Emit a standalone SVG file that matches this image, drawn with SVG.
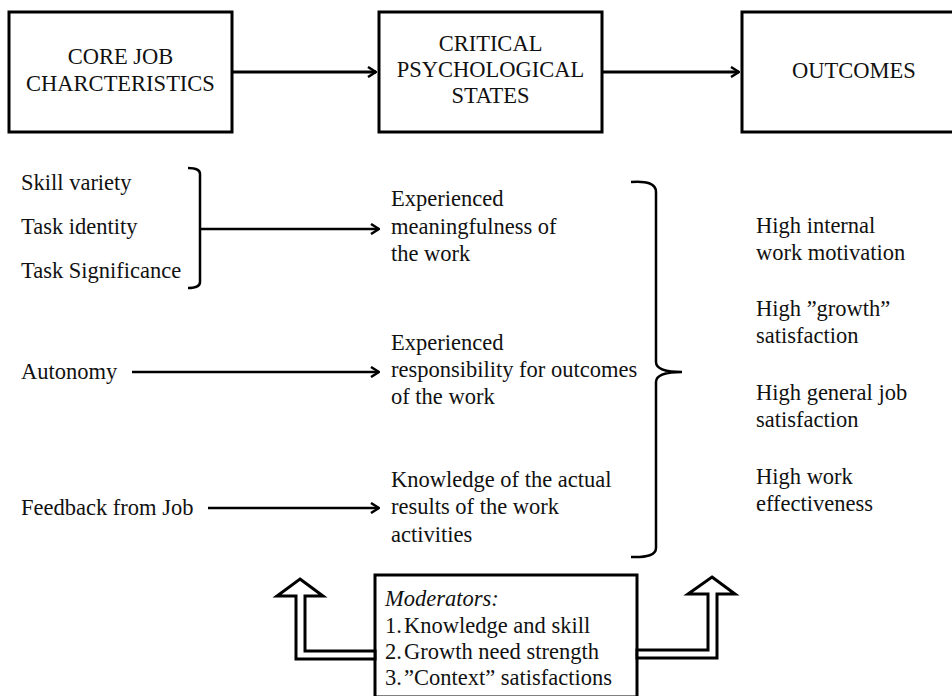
<svg xmlns="http://www.w3.org/2000/svg" width="952" height="696" viewBox="0 0 952 696">
<rect width="952" height="696" fill="#fff"/>
<defs>
<marker id="ah" viewBox="0 0 10 12" refX="9" refY="6" markerWidth="10" markerHeight="12" markerUnits="userSpaceOnUse" orient="auto">
<path d="M1,1 L9,6 L1,11" fill="none" stroke="#000" stroke-width="2.5"/>
</marker>
</defs>

<g id="core">
<rect x="9" y="12" width="223" height="120" fill="#fff" stroke="#000" stroke-width="3"/>
<text font-family="Liberation Serif" font-size="22.5" fill="#111" text-anchor="middle" x="120.5" y="64">CORE JOB</text>
<text font-family="Liberation Serif" font-size="22.5" fill="#111" text-anchor="middle" x="120.5" y="91">CHARCTERISTICS</text>
</g>
<g id="critical">
<rect x="379" y="12" width="223" height="120" fill="#fff" stroke="#000" stroke-width="3"/>
<text font-family="Liberation Serif" font-size="22.5" fill="#111" text-anchor="middle" x="490.5" y="51">CRITICAL</text>
<text font-family="Liberation Serif" font-size="22.5" fill="#111" text-anchor="middle" x="490.5" y="77">PSYCHOLOGICAL</text>
<text font-family="Liberation Serif" font-size="22.5" fill="#111" text-anchor="middle" x="490.5" y="103">STATES</text>
</g>
<g id="outcomes">
<rect x="742" y="12" width="224" height="120" fill="#fff" stroke="#000" stroke-width="3"/>
<text font-family="Liberation Serif" font-size="22.5" fill="#111" text-anchor="middle" x="854" y="78">OUTCOMES</text>
</g>

<g id="core-list">
<text font-family="Liberation Serif" font-size="22.5" fill="#111" x="21" y="190">Skill variety</text>
<text font-family="Liberation Serif" font-size="22.5" fill="#111" x="21" y="234">Task identity</text>
<text font-family="Liberation Serif" font-size="22.5" fill="#111" x="21" y="278">Task Significance</text>
<text font-family="Liberation Serif" font-size="22.5" fill="#111" x="21" y="379">Autonomy</text>
<text font-family="Liberation Serif" font-size="22.5" fill="#111" x="21" y="515">Feedback from Job</text>
</g>

<g id="states-list">
<text font-family="Liberation Serif" font-size="22.5" fill="#111" x="391" y="206">Experienced</text>
<text font-family="Liberation Serif" font-size="22.5" fill="#111" x="391" y="234">meaningfulness of</text>
<text font-family="Liberation Serif" font-size="22.5" fill="#111" x="391" y="261">the work</text>
<text font-family="Liberation Serif" font-size="22.5" fill="#111" x="391" y="350">Experienced</text>
<text font-family="Liberation Serif" font-size="22.5" fill="#111" x="391" y="377">responsibility for outcomes</text>
<text font-family="Liberation Serif" font-size="22.5" fill="#111" x="391" y="404">of the work</text>
<text font-family="Liberation Serif" font-size="22.5" fill="#111" x="391" y="487">Knowledge of the actual</text>
<text font-family="Liberation Serif" font-size="22.5" fill="#111" x="391" y="514">results of the work</text>
<text font-family="Liberation Serif" font-size="22.5" fill="#111" x="391" y="542">activities</text>
</g>

<g id="outcomes-list">
<text font-family="Liberation Serif" font-size="22.5" fill="#111" x="756" y="233">High internal</text>
<text font-family="Liberation Serif" font-size="22.5" fill="#111" x="756" y="260">work motivation</text>
<text font-family="Liberation Serif" font-size="22.5" fill="#111" x="756" y="316">High ”growth”</text>
<text font-family="Liberation Serif" font-size="22.5" fill="#111" x="756" y="343">satisfaction</text>
<text font-family="Liberation Serif" font-size="22.5" fill="#111" x="756" y="400">High general job</text>
<text font-family="Liberation Serif" font-size="22.5" fill="#111" x="756" y="427">satisfaction</text>
<text font-family="Liberation Serif" font-size="22.5" fill="#111" x="756" y="484">High work</text>
<text font-family="Liberation Serif" font-size="22.5" fill="#111" x="756" y="511">effectiveness</text>
</g>

<g id="moderators">
<rect x="375" y="575" width="262" height="122" fill="#fff" stroke="#000" stroke-width="3"/>
<text font-family="Liberation Serif" font-size="22.5" fill="#111" x="385" y="606" font-style="italic">Moderators:</text>
<text font-family="Liberation Serif" font-size="22.5" fill="#111" x="385" y="633">1.</text>
<text font-family="Liberation Serif" font-size="22.5" fill="#111" x="404" y="633">Knowledge and skill</text>
<text font-family="Liberation Serif" font-size="22.5" fill="#111" x="385" y="659">2.</text>
<text font-family="Liberation Serif" font-size="22.5" fill="#111" x="404" y="659">Growth need strength</text>
<text font-family="Liberation Serif" font-size="22.5" fill="#111" x="385" y="685">3.</text>
<text font-family="Liberation Serif" font-size="22.5" fill="#111" x="404" y="685">”Context” satisfactions</text>
</g>

<g id="connectors" fill="none" stroke="#000" stroke-width="2.5">
<line stroke-width="3" x1="232" y1="72" x2="376" y2="72" marker-end="url(#ah)"/>
<line stroke-width="3" x1="602" y1="72" x2="739" y2="72" marker-end="url(#ah)"/>
<path d="M188,168 Q200,168 200,174 L200,282 Q200,288 188,288"/>
<line x1="200" y1="229" x2="379" y2="229" marker-end="url(#ah)"/>
<line x1="132" y1="372" x2="379" y2="372" marker-end="url(#ah)"/>
<line x1="208" y1="508" x2="379" y2="508" marker-end="url(#ah)"/>
<path d="M631,182 Q656,180 656,192 L656,362 Q656,372 682,372 Q656,372 656,382 L656,548 Q656,558 631,557"/>
<path fill="#fff" stroke-width="3" d="M300,579 L323,596 L305,596 L305,651 L375,651 L375,659 L296,659 L296,596 L277,596 Z"/>
<path fill="#fff" stroke-width="3" d="M712,577 L735,594 L717,594 L717,658 L637,658 L637,650 L708,650 L708,594 L688,594 Z"/>
</g>
</svg>
